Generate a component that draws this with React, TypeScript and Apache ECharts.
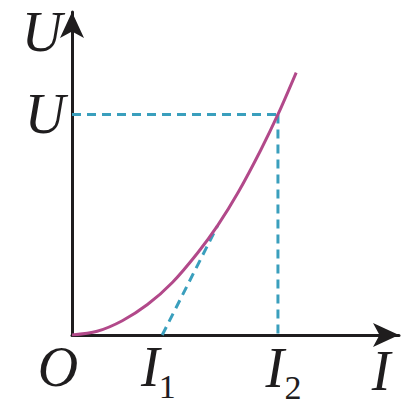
import React, { useEffect, useRef } from "react";
import * as echarts from "echarts";

// U–I characteristic of a non-linear element (values in arbitrary units)
const currentI = [0, 0.8, 1.6, 2.4, 3.2, 4.0, 4.63, 5.3, 6.0, 6.55, 7.13];
const voltageU = [0, 0.12, 0.46, 0.98, 1.7, 2.65, 3.52, 4.62, 5.95, 7.1, 8.45];

// reference quantities on the axes
const I1 = 2.87;
const I2 = 6.55;
const U0 = 7.1;
// point where the dashed chord from I1 meets the curve
const chordEnd = [4.63, 3.52];

const xMax = 10.4;
const yMax = 10.4;

const INK = "#1f1d1e";
const CURVE = "#b2498a";
const DASH = "#3a9fbd";
const SERIF = "'Liberation Serif', 'Times New Roman', 'DejaVu Serif', serif";

export default function App() {
  const ref = useRef<HTMLDivElement>(null);

  useEffect(() => {
    if (!ref.current) return;
    const chart = echarts.init(ref.current, undefined, { renderer: "svg" });

    const axisCommon = (max: number) => ({
      type: "value" as const,
      min: 0,
      max,
      splitLine: { show: false },
      axisTick: { show: false },
      axisLabel: { show: false },
      axisLine: {
        show: true,
        symbol: ["none", "arrow"],
        symbolSize: [18, 26],
        lineStyle: { color: INK, width: 3 },
      },
    });

    const dashStyle = { color: DASH, width: 3, type: [9, 6] as number[] };

    chart.setOption({
      animation: false,
      backgroundColor: "#ffffff",
      grid: { left: 72, right: 9, top: 12, bottom: 71 },
      xAxis: axisCommon(xMax),
      yAxis: axisCommon(yMax),
      series: [
        {
          type: "line",
          data: [
            [0, U0],
            [I2, U0],
          ],
          showSymbol: false,
          lineStyle: dashStyle,
          z: 1,
        },
        {
          type: "line",
          data: [
            [I2, U0],
            [I2, 0],
          ],
          showSymbol: false,
          lineStyle: dashStyle,
          z: 1,
        },
        {
          type: "line",
          data: [[I1, 0], chordEnd],
          showSymbol: false,
          lineStyle: dashStyle,
          z: 1,
        },
        {
          type: "line",
          data: currentI.map((v, i) => [v, voltageU[i]]),
          smooth: 0.3,
          showSymbol: false,
          lineStyle: { color: CURVE, width: 3 },
          z: 2,
        },
      ],
    });

    const px = (p: number[]) => chart.convertToPixel({ gridIndex: 0 }, p) as number[];
    const o = px([0, 0]);
    const pU = px([0, U0]);
    const pI1 = px([I1, 0]);
    const pI2 = px([I2, 0]);

    const label = (text: string, x: number, y: number, italic: boolean, size: number) => ({
      type: "text",
      x,
      y,
      style: {
        text,
        font: `${italic ? "italic " : ""}${size}px ${SERIF}`,
        fill: INK,
        align: "center",
        verticalAlign: "middle",
        textAlign: "center",
        textVerticalAlign: "middle",
      },
    });
    const letter = (t: string, x: number, y: number) => label(t, x, y, true, 56);
    const sub = (t: string, x: number, y: number) => label(t, x, y, false, 34);

    chart.setOption({
      graphic: [
        letter("U", o[0] - 30, 32),
        letter("U", o[0] - 27, pU[1]),
        letter("O", o[0] - 14, o[1] + 32),
        letter("I", pI1[0] - 12, o[1] + 32),
        sub("1", pI1[0] + 5, o[1] + 51),
        letter("I", pI2[0] - 3, o[1] + 33),
        sub("2", pI2[0] + 15, o[1] + 52),
        letter("I", 381, o[1] + 36),
      ],
    });

    return () => chart.dispose();
  }, []);

  return (
    <div
      ref={ref}
      style={{ position: "fixed", left: 0, top: 0, width: 408, height: 406 }}
    />
  );
}
